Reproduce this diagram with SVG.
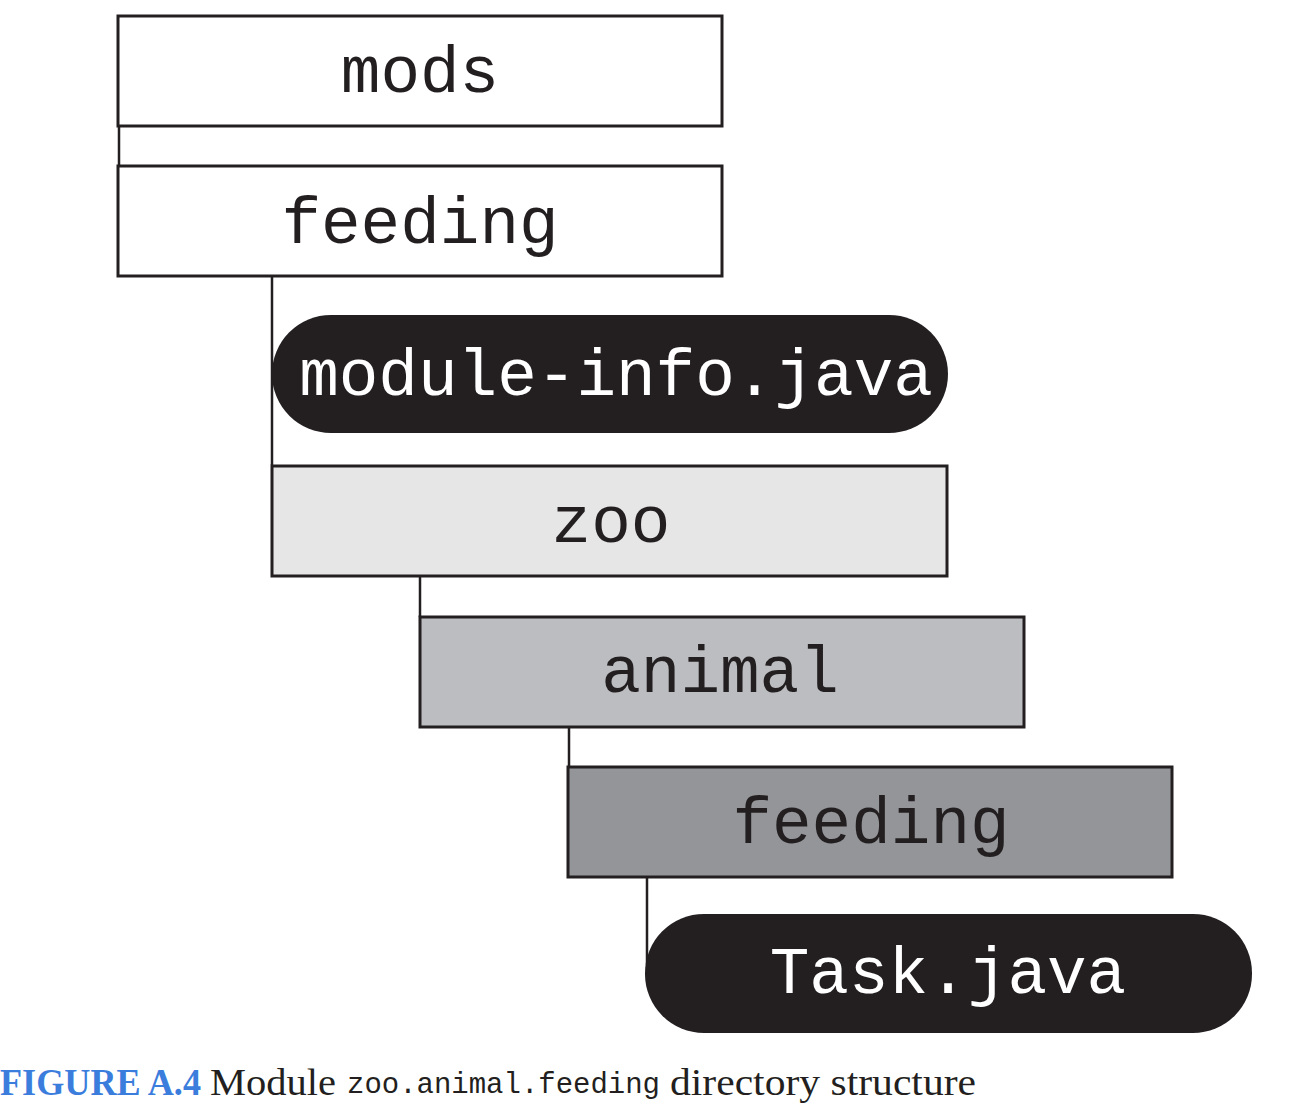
<svg xmlns="http://www.w3.org/2000/svg" width="1294" height="1114" viewBox="0 0 1294 1114">
<style>
.box{stroke:#231f20;stroke-width:3}
.pill{fill:#231f20}
.lbl{font-family:"Liberation Mono","Courier New",monospace;font-size:66px;text-anchor:middle;fill:#231f20}
.wl{fill:#ffffff}
.con{stroke:#231f20;stroke-width:2.5;fill:none}
.cap{font-family:"Liberation Serif","Times New Roman",serif;font-size:37px;fill:#231f20}
</style>
<rect width="1294" height="1114" fill="#ffffff"/>
<g id="connectors">
<line class="con" x1="119" y1="126" x2="119" y2="166"/>
<line class="con" x1="272" y1="276" x2="272" y2="465"/>
<line class="con" x1="420" y1="576" x2="420" y2="617"/>
<line class="con" x1="569" y1="727" x2="569" y2="766"/>
<line class="con" x1="647" y1="877" x2="647" y2="965"/>
</g>
<g id="mods">
<rect class="box" x="118" y="16" width="604" height="110" fill="#ffffff"/>
<text class="lbl" x="420" y="92">mods</text>
</g>
<g id="feeding-top">
<rect class="box" x="118" y="166" width="604" height="110" fill="#ffffff"/>
<text class="lbl" x="420" y="243">feeding</text>
</g>
<g id="module-info">
<rect class="pill" x="272" y="315" width="676" height="118" rx="59" ry="59"/>
<text class="lbl wl" x="616" y="395">module-info.java</text>
</g>
<g id="zoo">
<rect class="box" x="272" y="466" width="675" height="110" fill="#e6e6e6"/>
<text class="lbl" x="611" y="542">zoo</text>
</g>
<g id="animal">
<rect class="box" x="420" y="617" width="604" height="110" fill="#bcbdc0"/>
<text class="lbl" x="720" y="692">animal</text>
</g>
<g id="feeding-sub">
<rect class="box" x="568" y="767" width="604" height="110" fill="#939598"/>
<text class="lbl" x="871" y="843">feeding</text>
</g>
<g id="task">
<rect class="pill" x="645" y="914" width="607" height="119" rx="59" ry="59"/>
<text class="lbl wl" x="948" y="993">Task.java</text>
</g>
<g id="caption">
<text x="0" y="1095" font-family="'Liberation Serif','Times New Roman',serif" font-size="37" font-weight="bold" fill="#3b7ddd" textLength="201" lengthAdjust="spacingAndGlyphs">FIGURE A.4</text>
<text class="cap" x="210" y="1095" textLength="126" lengthAdjust="spacingAndGlyphs">Module</text>
<text x="347" y="1093" font-family="'Liberation Mono','Courier New',monospace" font-size="29" fill="#231f20" textLength="313" lengthAdjust="spacingAndGlyphs">zoo.animal.feeding</text>
<text class="cap" x="670" y="1095" textLength="306" lengthAdjust="spacingAndGlyphs">directory structure</text>
</g>
</svg>
